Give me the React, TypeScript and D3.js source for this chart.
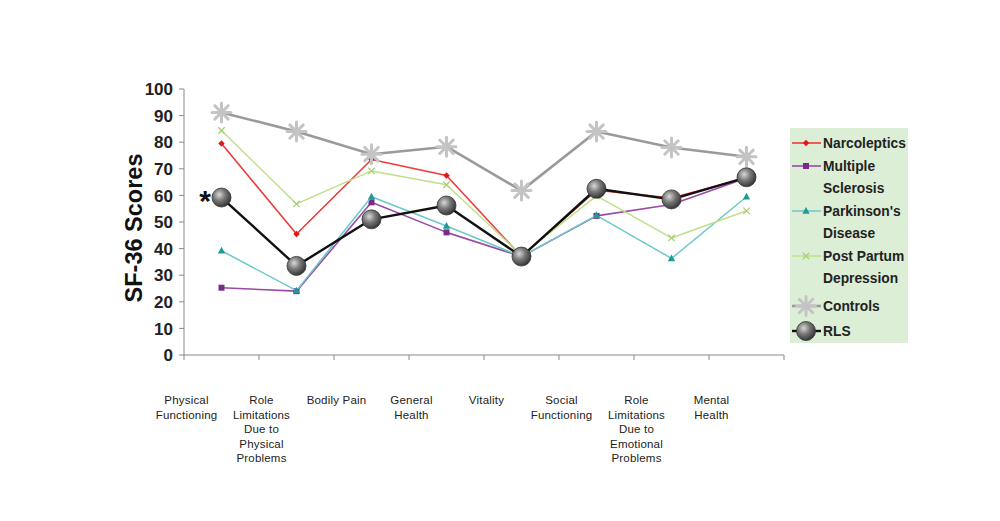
import React from "react";
import * as d3 from "d3";

const categories: string[][] = [
  ["Physical", "Functioning"],
  ["Role", "Limitations", "Due to", "Physical", "Problems"],
  ["Bodily Pain"],
  ["General", "Health"],
  ["Vitality"],
  ["Social", "Functioning"],
  ["Role", "Limitations", "Due to", "Emotional", "Problems"],
  ["Mental", "Health"],
];

const narcoleptics = [79.5, 45.5, 73.5, 67.5, 37, 62, 59, 66.5];
const multipleSclerosis = [25.3, 24, 57.4, 46.1, 37, 52.3, 56.6, 66.5];
const parkinsons = [39.2, 24.2, 59.5, 48.5, 37, 52.5, 36.3, 59.5];
const postPartum = [84.4, 56.8, 69.2, 64, 37.5, 59.8, 44, 54.2];
const controls = [91.2, 84, 75.5, 78.3, 61.8, 84, 78, 74.5];
const rls = [59.2, 33.5, 51, 56.2, 37, 62.5, 58.5, 66.8];

const yTicks = [0, 10, 20, 30, 40, 50, 60, 70, 80, 90, 100];

type Series = {
  name: string[];
  values: number[];
  color: string;
  marker: string;
  markerColor: string;
  width: number;
};

const series: Series[] = [
  { name: ["Narcoleptics"], values: narcoleptics, color: "#f03a3a", marker: "diamond", markerColor: "#e01818", width: 1.6 },
  { name: ["Multiple", "Sclerosis"], values: multipleSclerosis, color: "#9a4aa8", marker: "square", markerColor: "#7a2a8a", width: 1.6 },
  { name: ["Parkinson's", "Disease"], values: parkinsons, color: "#6cc9c9", marker: "triangle", markerColor: "#1c9a98", width: 1.5 },
  { name: ["Post Partum", "Depression"], values: postPartum, color: "#bfe08a", marker: "x", markerColor: "#a8d070", width: 1.5 },
  { name: ["Controls"], values: controls, color: "#9a9a9a", marker: "star", markerColor: "#c4c4c4", width: 2.6 },
  { name: ["RLS"], values: rls, color: "#111111", marker: "sphere", markerColor: "#555", width: 2.4 },
];

function Marker({ type, x, y, color }: { type: string; x: number; y: number; color: string }) {
  if (type === "diamond") {
    const s = 3.2;
    return <path d={`M${x},${y - s}L${x + s},${y}L${x},${y + s}L${x - s},${y}Z`} fill={color} />;
  }
  if (type === "square") {
    return <rect x={x - 3} y={y - 3} width={6} height={6} fill={color} />;
  }
  if (type === "triangle") {
    return <path d={`M${x},${y - 4}L${x + 3.6},${y + 2.8}L${x - 3.6},${y + 2.8}Z`} fill={color} />;
  }
  if (type === "x") {
    const s = 3.2;
    return (
      <path d={`M${x - s},${y - s}L${x + s},${y + s}M${x - s},${y + s}L${x + s},${y - s}`} stroke={color} strokeWidth={1.3} />
    );
  }
  if (type === "star") {
    const r = 9.5;
    const parts: string[] = [];
    for (let i = 0; i < 4; i++) {
      const a = (Math.PI / 4) * i;
      parts.push(`M${x - r * Math.cos(a)},${y - r * Math.sin(a)}L${x + r * Math.cos(a)},${y + r * Math.sin(a)}`);
    }
    return <path d={parts.join("")} stroke={color} strokeWidth={3} strokeLinecap="round" />;
  }
  if (type === "sphere") {
    return <circle cx={x} cy={y} r={9.5} fill="url(#sphereGrad)" stroke="#333" strokeWidth={0.8} />;
  }
  return null;
}

export default function App() {
  const W = 1000;
  const H = 521;
  const left = 184;
  const right = 784;
  const top = 89;
  const bottom = 355;

  const x = d3.scaleBand<number>().domain(d3.range(categories.length)).range([left, right]);
  const y = d3.scaleLinear().domain([0, 100]).range([bottom, top]);
  const cx = (i: number) => (x(i) as number) + x.bandwidth() / 2;

  const line = d3
    .line<number>()
    .x((_, i) => cx(i))
    .y((v) => y(v));

  const axisColor = "#8a8a8a";

  const legendX = 790;
  const legendY = 128;
  const legendRows = [143, 166, 211, 256, 306, 331];

  return (
    <svg width={W} height={H} style={{ display: "block", position: "absolute", left: 0, top: 0 }} fontFamily="Liberation Sans, Arial, sans-serif">
      <defs>
        <radialGradient id="sphereGrad" cx="0.38" cy="0.35" r="0.7">
          <stop offset="0%" stopColor="#d8d8d8" />
          <stop offset="45%" stopColor="#7a7a7a" />
          <stop offset="100%" stopColor="#2e2e2e" />
        </radialGradient>
      </defs>
      <rect width={W} height={H} fill="#fff" />

      {/* axes */}
      <line x1={left} x2={left} y1={top} y2={bottom} stroke={axisColor} strokeWidth={1} />
      <line x1={left} x2={right} y1={bottom} y2={bottom} stroke={axisColor} strokeWidth={1} />
      {yTicks.map((t) => (
        <g key={t}>
          <line x1={left - 5} x2={left} y1={y(t)} y2={y(t)} stroke={axisColor} />
          <text x={173} y={y(t)} dy="0.36em" textAnchor="end" fontSize={17} fontWeight="bold" fill="#222">
            {t}
          </text>
        </g>
      ))}
      {d3.range(categories.length + 1).map((i) => {
        const xx = left + i * x.bandwidth();
        return <line key={i} x1={xx} x2={xx} y1={bottom} y2={bottom + 5} stroke={axisColor} />;
      })}

      {/* y title */}
      <text
        transform={`translate(142,${(top + bottom) / 2 + 6}) rotate(-90)`}
        textAnchor="middle"
        fontSize={23.5}
        fontWeight="bold"
        fill="#111"
      >
        SF-36 Scores
      </text>

      {/* x labels */}
      {categories.map((lines, i) => (
        <text key={i} textAnchor="middle" fontSize={11.5} fill="#222" letterSpacing={0.2}>
          {lines.map((l, j) => (
            <tspan key={j} x={cx(i) - 35} y={404 + j * 14.6}>
              {l}
            </tspan>
          ))}
        </text>
      ))}

      {/* series */}
      {series.map((s, si) => (
        <g key={si}>
          <path d={line(s.values) || ""} fill="none" stroke={s.color} strokeWidth={s.width} strokeLinejoin="round" />
          {s.values.map((v, i) => (
            <Marker key={i} type={s.marker} x={cx(i)} y={y(v)} color={s.markerColor} />
          ))}
        </g>
      ))}

      {/* asterisk */}
      <text x={205} y={y(rls[0]) + 13} textAnchor="middle" fontSize={30} fontWeight="bold" fill="#111">
        *
      </text>

      {/* legend */}
      <rect x={legendX} y={legendY} width={118} height={215} fill="#ddeed6" />
      {series.map((s, si) => {
        const ry = legendRows[si];
        return (
          <g key={si}>
            <line x1={792} x2={821} y1={ry} y2={ry} stroke={s.color} strokeWidth={s.width} />
            <Marker type={s.marker} x={806} y={ry} color={s.markerColor} />
            <text fontSize={13.8} fontWeight="bold" fill="#222">
              {s.name.map((n, j) => (
                <tspan key={j} x={823} y={ry + 5 + j * 22}>
                  {n}
                </tspan>
              ))}
            </text>
          </g>
        );
      })}
    </svg>
  );
}
